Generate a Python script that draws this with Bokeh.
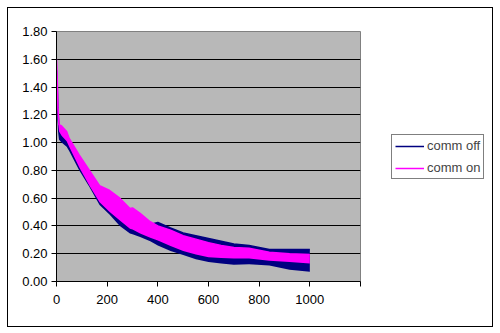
from bokeh.plotting import figure
from bokeh.models import (Legend, LegendItem, NumeralTickFormatter, FixedTicker,
                          Range1d)
from bokeh.layouts import row
from bokeh.embed import file_html
from bokeh.resources import INLINE

# envelope of the noisy series
x = [0, 3, 6, 10, 20, 40, 50, 90, 130, 170, 210, 250, 290, 300, 330, 370, 400,
     450, 500, 550, 600, 650, 700, 760, 840, 920, 1000]
on_hi = [1.60, 1.45, 1.25, 1.13, 1.12, 1.08, 1.03, 0.91, 0.80, 0.69, 0.655, 0.60,
         0.525, 0.53, 0.49, 0.43, 0.40, 0.37, 0.33, 0.305, 0.28, 0.26, 0.245, 0.24,
         0.21, 0.20, 0.195]
on_lo = [1.50, 1.30, 1.15, 1.08, 1.05, 1.01, 0.97, 0.82, 0.69, 0.57, 0.50, 0.44,
         0.38, 0.375, 0.345, 0.315, 0.295, 0.255, 0.22, 0.195, 0.175, 0.17, 0.165,
         0.165, 0.15, 0.14, 0.13]
off_hi = [1.52, 1.40, 1.22, 1.10, 1.06, 1.02, 0.98, 0.86, 0.74, 0.63, 0.56, 0.50,
          0.45, 0.44, 0.42, 0.41, 0.425, 0.385, 0.35, 0.33, 0.31, 0.29, 0.27, 0.26,
          0.23, 0.23, 0.23]
off_lo = [1.25, 1.20, 1.08, 1.02, 1.00, 0.97, 0.94, 0.80, 0.68, 0.55, 0.48, 0.40,
          0.345, 0.34, 0.32, 0.29, 0.26, 0.22, 0.19, 0.16, 0.14, 0.13, 0.12, 0.125,
          0.115, 0.085, 0.07]

x_ticks = [0, 200, 400, 600, 800, 1000, 1200]
x_labels = {1200: ""}
y_ticks = [0.0, 0.2, 0.4, 0.6, 0.8, 1.0, 1.2, 1.4, 1.6, 1.8]
series_names = ["comm off", "comm on"]
series_colors = ["#000080", "#ff00ff"]

FONT = "Liberation Sans"

p = figure(width=353, height=318, output_backend="svg", toolbar_location=None,
           x_range=Range1d(0, 1200), y_range=Range1d(0, 1.8),
           min_border_left=48, min_border_top=23, min_border_bottom=45,
           min_border_right=1)

p.background_fill_color = "#b8b8b8"
p.border_fill_color = "white"
p.outline_line_color = "#808080"

p.varea(x=x, y1=off_lo, y2=off_hi, fill_color=series_colors[0])
p.line(x=x, y=off_hi, line_color=series_colors[0], line_width=1.5)
p.varea(x=x, y1=on_lo, y2=on_hi, fill_color=series_colors[1])
p.line(x=x, y=on_hi, line_color=series_colors[1], line_width=1.5)

for ax in (p.xaxis[0], p.yaxis[0]):
    ax.axis_line_color = "black"
    ax.major_tick_line_color = "black"
    ax.major_tick_in = 0
    ax.major_tick_out = 5
    ax.minor_tick_line_color = None
    ax.major_label_text_font = FONT
    ax.major_label_text_font_size = "13px"
    ax.major_label_text_color = "black"

p.xaxis.ticker = FixedTicker(ticks=x_ticks)
p.xaxis.major_label_overrides = x_labels
p.xaxis.major_label_standoff = 8
p.yaxis.ticker = FixedTicker(ticks=y_ticks)
p.yaxis.formatter = NumeralTickFormatter(format="0.00")
p.yaxis.major_label_standoff = 4

p.xgrid.grid_line_color = None
p.ygrid.grid_line_color = "black"
p.ygrid.grid_line_width = 1
p.ygrid.ticker = FixedTicker(ticks=y_ticks)

# legend panel: key lines sit outside the panel's visible range
q = figure(width=131, height=318, output_backend="svg", toolbar_location=None,
           x_range=Range1d(0, 1), y_range=Range1d(0, 1),
           min_border=0)
q.axis.visible = False
q.grid.visible = False
q.outline_line_color = None
q.background_fill_color = "white"
q.border_fill_color = "white"
off_key = q.line(x=[-5, -4], y=[-5, -4], line_color=series_colors[0], line_width=1.5)
on_key = q.line(x=[-5, -4], y=[-5, -4], line_color=series_colors[1], line_width=1.5)

legend = Legend(items=[LegendItem(label=series_names[0], renderers=[off_key]),
                       LegendItem(label=series_names[1], renderers=[on_key])],
                location=(30, 102))
legend.border_line_color = "black"
legend.border_line_width = 1
legend.background_fill_color = "white"
legend.background_fill_alpha = 1
legend.label_text_font = FONT
legend.label_text_font_size = "13px"
legend.glyph_width = 29
legend.glyph_height = 12
legend.label_height = 12
legend.label_standoff = 3
legend.spacing = 7
legend.padding = 3
legend.margin = 0
q.add_layout(legend, "center")

layout = row(p, q, spacing=0)
layout.styles = {"border": "1px solid black", "margin-left": "7px",
                 "margin-top": "7px"}

open("out.html", "w").write(file_html(layout, INLINE))
